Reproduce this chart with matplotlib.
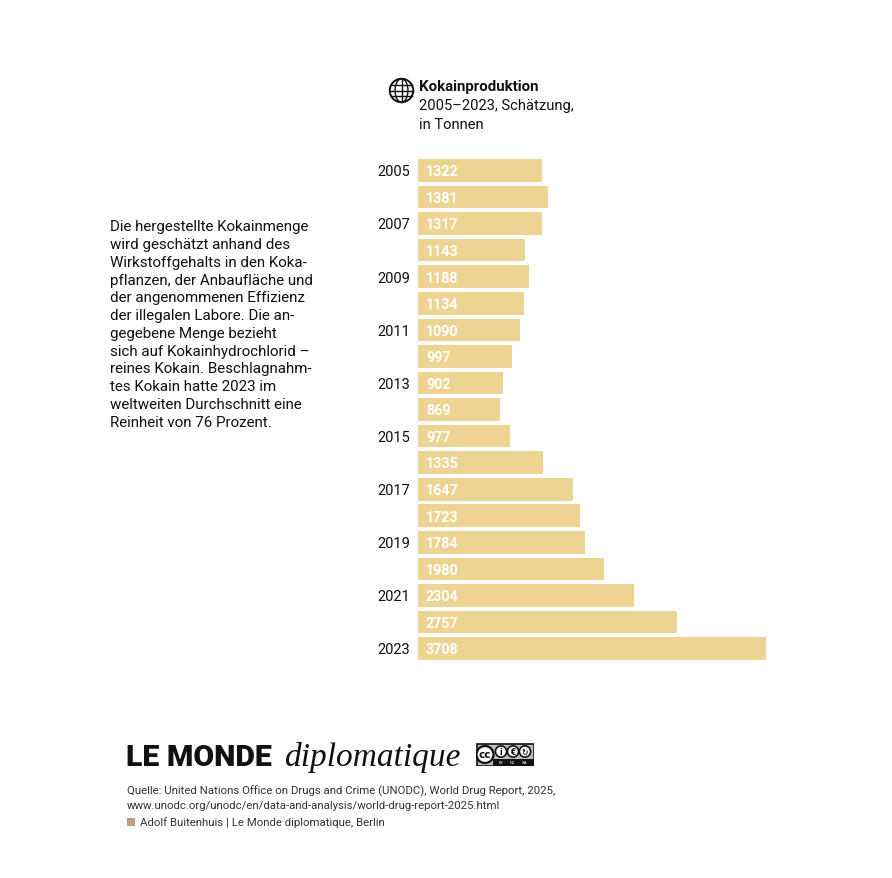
import matplotlib
matplotlib.use("Agg")
import matplotlib.pyplot as plt
from matplotlib.patches import Circle, Rectangle, Ellipse
import numpy as np

years = [2005, 2006, 2007, 2008, 2009, 2010, 2011, 2012, 2013, 2014,
         2015, 2016, 2017, 2018, 2019, 2020, 2021, 2022, 2023]
values = [1322, 1381, 1317, 1143, 1188, 1134, 1090, 997, 902, 869,
          977, 1335, 1647, 1723, 1784, 1980, 2304, 2757, 3708]
year_labels = ["2005", "", "2007", "", "2009", "", "2011", "", "2013", "",
               "2015", "", "2017", "", "2019", "", "2021", "", "2023"]

title = "Kokainproduktion"
subtitle_lines = ["2005–2023, Schätzung,", "in Tonnen"]
note = ("Die hergestellte Kokainmenge\nwird geschätzt anhand des\nWirkstoffgehalts in den Koka-\n"
        "pflanzen, der Anbaufläche und\nder angenommenen Effizienz\nder illegalen Labore. Die an-\n"
        "gegebene Menge bezieht\nsich auf Kokainhydrochlorid –\nreines Kokain. Beschlagnahm-\n"
        "tes Kokain hatte 2023 im\nweltweiten Durchschnitt eine\nReinheit von 76 Prozent.")
source = ("Quelle: United Nations Office on Drugs and Crime (UNODC), World Drug Report, 2025,\n"
          "www.unodc.org/unodc/en/data-and-analysis/world-drug-report-2025.html")
credit = "Adolf Buitenhuis | Le Monde diplomatique, Berlin"

FONT = ["Roboto", "DejaVu Sans"]
plt.rcParams['font.family'] = FONT

W, H = 892, 879
fig = plt.figure(figsize=(W / 100, H / 100), dpi=100)
fig.patch.set_facecolor("white")

def fx(px):
    return px / W

def fy(py):
    return 1 - py / H

bar_color = "#EDD493"
pitch = 26.56
top = 171.5 - pitch / 2
bottom = top + pitch * len(years)
x0 = 418
xmax = 3708 * 1.0
ax = fig.add_axes([fx(x0), fy(bottom), 348 / W, (bottom - top) / H])
ax.set_xlim(0, xmax)
ax.set_ylim(len(years) - 0.5, -0.5)
ypos = np.arange(len(years))
ax.barh(ypos, values, height=0.85, color=bar_color, left=0)
for y, v, lab in zip(ypos, values, year_labels):
    ax.text(85, y + 0.03, str(v), color="white", fontweight="bold", fontsize=10.3,
            va="center", ha="left")
    if lab:
        ax.text(-85, y + 0.03, lab, color="#111111", fontsize=10.5, va="center", ha="right")
ax.axis("off")

# header
fig.text(fx(419), fy(87), title, fontsize=10.8, fontweight="bold", va="center", ha="left", color="#111111")
for i, line in enumerate(subtitle_lines):
    fig.text(fx(419), fy(106 + 19 * i), line, fontsize=10.6, va="center", ha="left",
             color="#111111")

# globe icon
gax = fig.add_axes([fx(388), fy(105), 27 / W, 27 / H])
gax.set_xlim(-1.15, 1.15)
gax.set_ylim(-1.15, 1.15)
gax.set_aspect("equal")
gax.axis("off")
gax.add_patch(Circle((0, 0), 1, fill=False, lw=1.4, color="#111111"))
gax.add_patch(Ellipse((0, 0), 1.1, 2, fill=False, lw=1.0, color="#111111"))
gax.plot([0, 0], [-1, 1], color="#111111", lw=1.0)
for yy in [-0.5, 0, 0.5]:
    xx = np.sqrt(1 - yy ** 2)
    gax.plot([-xx, xx], [yy, yy], color="#111111", lw=1.0)

# note
fig.text(fx(110), fy(220.5), note, fontsize=10.9, va="top", ha="left", color="#111111",
         linespacing=1.34)

# logo
fig.text(fx(126), fy(766), "LE MONDE", fontsize=21.8, fontweight="heavy", va="baseline",
         ha="left", color="#111111")
fig.text(fx(285), fy(766), "diplomatique", fontsize=24, style="italic", va="baseline",
         ha="left", color="#111111", family=["Liberation Serif"])

# cc icon
cax = fig.add_axes([fx(476), fy(767), 58 / W, 23 / H])
cax.set_xlim(0, 58)
cax.set_ylim(0, 23)
cax.axis("off")
cax.add_patch(Rectangle((0.5, 0.5), 57, 22, fc="#BDBDBD", ec="#111111", lw=1.2))
cax.add_patch(Rectangle((17, 0.5), 40.5, 7, fc="#111111", ec="none"))
cax.add_patch(Circle((9, 11.5), 8.5, fc="white", ec="#111111", lw=1.6))
cax.text(9, 11.5, "cc", fontsize=7.5, fontweight="bold", ha="center", va="center",
         family=["DejaVu Sans"], color="#111111")
for cxp, sym in zip([25, 37, 49], ["i", "€", "↻"]):
    cax.add_patch(Circle((cxp, 14.5), 5.6, fc="white", ec="#111111", lw=1.2))
    cax.text(cxp, 14.5, sym, fontsize=5.5, fontweight="bold", ha="center", va="center",
             family=["DejaVu Sans"], color="#111111")
for cxp, lab in zip([25, 37, 49], ["BY", "NC", "SA"]):
    cax.text(cxp, 4, lab, fontsize=3, color="white", ha="center", va="center",
             family=["DejaVu Sans"])

# source
fig.text(fx(127), fy(786), source, fontsize=8.2, va="top", ha="left", color="#333333",
         linespacing=1.45)
fig.patches.append(Rectangle((fx(127), fy(827)), 8 / W, 8 / H, transform=fig.transFigure,
                             fc="#B7A27A", ec="none"))
fig.text(fx(140), fy(823), credit, fontsize=8.2, va="center", ha="left", color="#333333")

fig.savefig("out.png", dpi=100, facecolor="white")
